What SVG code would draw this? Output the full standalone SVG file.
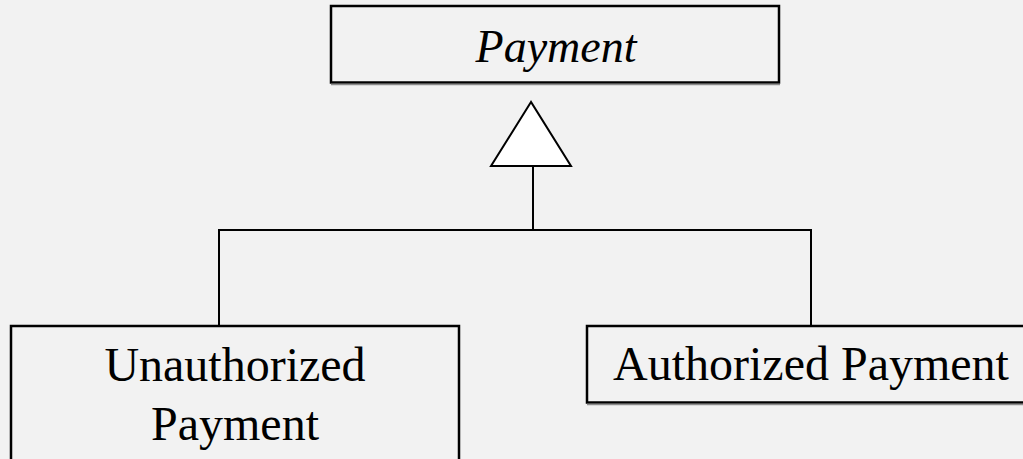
<svg xmlns="http://www.w3.org/2000/svg" width="1023" height="459" viewBox="0 0 1023 459">
  <style>
    .box { fill: #f2f2f2; stroke: #000; stroke-width: 2.5; }
    .shade { stroke: #8c8c8c; stroke-width: 1.5; }
    .lbl { font-family: "Liberation Serif", "Times New Roman", serif; font-size: 48px; fill: #000; text-anchor: middle; }
    .abstract { font-style: italic; font-size: 46px; }
    .wire { fill: none; stroke: #000; stroke-width: 2; }
  </style>
  <rect x="0" y="0" width="1023" height="459" fill="#f2f2f2"/>

  <!-- abstract superclass -->
  <g id="payment">
    <rect class="box" x="331" y="6" width="448" height="76.5"/>
    <line class="shade" x1="331" y1="84.5" x2="780" y2="84.5"/>
    <text class="lbl abstract" x="556" y="62">Payment</text>
  </g>

  <!-- generalization tree -->
  <g id="connectors">
    <polyline class="wire" points="219,326 219,230 811,230 811,326"/>
    <line class="wire" x1="533" y1="166" x2="533" y2="230"/>
    <polygon points="531,102 491,166 571,166" fill="#fff" stroke="#000" stroke-width="2"/>
  </g>

  <g id="unauthorized-payment">
    <rect class="box" x="11" y="326" width="448" height="160"/>
    <text class="lbl" x="235" y="381">Unauthorized</text>
    <text class="lbl" x="235" y="440">Payment</text>
  </g>

  <g id="authorized-payment">
    <rect class="box" x="587" y="326" width="448" height="76.5"/>
    <line class="shade" x1="587" y1="404.5" x2="1023" y2="404.5"/>
    <text class="lbl" x="811" y="380">Authorized Payment</text>
  </g>
</svg>
